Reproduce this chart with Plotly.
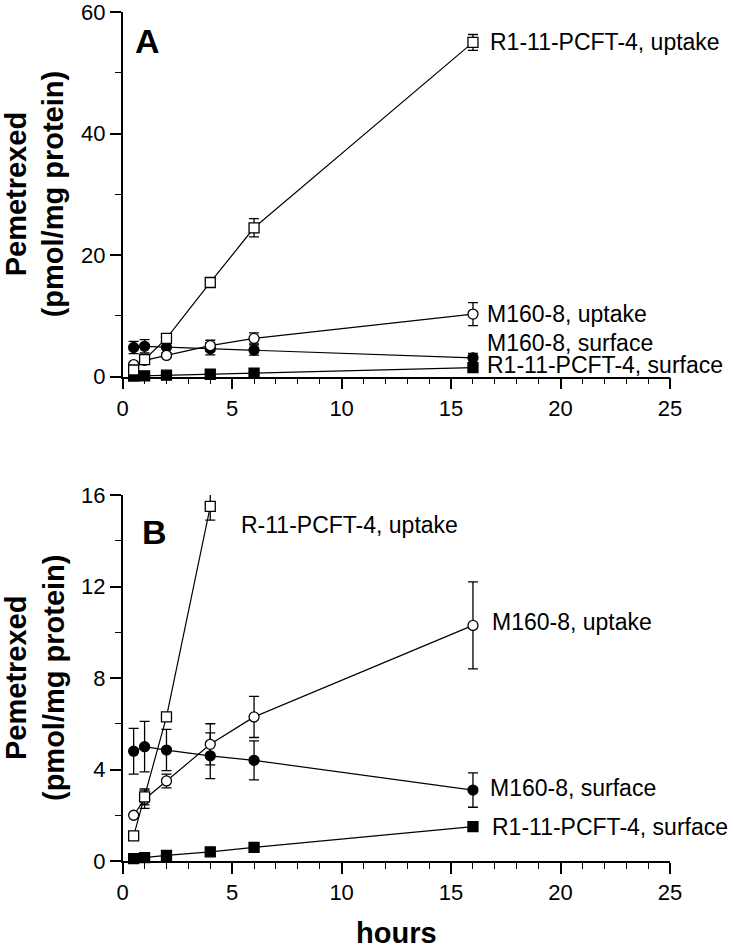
import plotly.graph_objects as go

# ---------------- data ----------------
hours = [0.5, 1, 2, 4, 6, 16]

r1_uptake = [1.1, 2.8, 6.3, 15.5, 24.5, 55.0]
r1_uptake_err = [None, 0.35, None, 0.6, 1.5, 1.3]

m160_uptake = [2.0, 2.7, 3.5, 5.1, 6.3, 10.3]
m160_uptake_err = [None, 0.4, 0.3, 0.9, 0.9, 1.9]

m160_surface = [4.8, 5.0, 4.85, 4.6, 4.4, 3.1]
m160_surface_err = [1.0, 1.1, 0.9, 1.0, 0.85, 0.75]

r1_surface = [0.1, 0.15, 0.25, 0.4, 0.6, 1.5]

# panel B shows R1 uptake only while on scale
n_b_r1 = 4

x_ticks = [0, 5, 10, 15, 20, 25]
yA_ticks = [0, 20, 40, 60]
yB_ticks = [0, 4, 8, 12, 16]

FONT = "Arial, Liberation Sans, sans-serif"
W, H = 734, 947

fig = go.Figure()


def err(arr):
    return dict(type="data", array=arr, visible=True, color="black",
                thickness=1.3, width=5)


def add_series(x, y, e, symbol, fill, xa, ya):
    kw = {}
    if e is not None:
        kw["error_y"] = err(e)
    fig.add_trace(go.Scatter(
        x=x, y=y, mode="lines+markers", xaxis=xa, yaxis=ya,
        line=dict(color="black", width=1.2),
        marker=dict(symbol=symbol, size=10, color=fill,
                    line=dict(color="black", width=1.3)),
        cliponaxis=False, showlegend=False, **kw))


for xa, ya, nr in [("x", "y", len(hours)), ("x2", "y2", n_b_r1)]:
    add_series(hours, r1_surface, None, "square", "black", xa, ya)
    add_series(hours, m160_surface, m160_surface_err, "circle", "black", xa, ya)
    add_series(hours, m160_uptake, m160_uptake_err, "circle", "white", xa, ya)
    add_series(hours[:nr], r1_uptake[:nr], r1_uptake_err[:nr], "square", "white", xa, ya)

# ---------------- axes ----------------
x0, x1 = 122.7 / W, 670 / W
domA = [1 - 376.7 / H, 1 - 12 / H]
domB = [1 - 861 / H, 1 - 495 / H]

common_x = dict(range=[0, 25], tickvals=x_ticks, ticks="outside", ticklen=11,
                tickwidth=1.5, tickcolor="black", showline=True, linecolor="black",
                linewidth=1.5, showgrid=False, zeroline=False, automargin=False,
                ticklabeloverflow="allow",
                tickfont=dict(family=FONT, size=22, color="black"),
                minor=dict(dtick=1, ticks="outside", ticklen=6, tickwidth=1.3,
                           tickcolor="black", showgrid=False),
                domain=[x0, x1])
common_y = dict(ticks="outside", ticklen=11, tickwidth=1.5, tickcolor="black",
                showline=True, linecolor="black", linewidth=1.5, showgrid=False,
                zeroline=False, automargin=False, ticklabeloverflow="allow",
                tickfont=dict(family=FONT, size=22, color="black"))

fig.update_layout(
    width=W, height=H, margin=dict(l=0, r=0, t=0, b=0, autoexpand=False),
    paper_bgcolor="white", plot_bgcolor="white",
    xaxis=dict(**common_x, anchor="y"),
    yaxis=dict(**common_y, range=[0, 60], tickvals=yA_ticks, domain=domA, anchor="x",
               minor=dict(dtick=10, ticks="outside", ticklen=6, tickwidth=1.3,
                          tickcolor="black", showgrid=False)),
    xaxis2=dict(**common_x, anchor="y2"),
    yaxis2=dict(**common_y, range=[0, 16], tickvals=yB_ticks, domain=domB, anchor="x2",
                minor=dict(dtick=2, ticks="outside", ticklen=6, tickwidth=1.3,
                           tickcolor="black", showgrid=False)),
)

lab_font = dict(family=FONT, size=23, color="black")
ann = []


def label(text, x, y, xref, yref, xshift=0, yshift=0, anchor="left"):
    ann.append(dict(text=text, x=x, y=y, xref=xref, yref=yref, xanchor=anchor,
                    yanchor="middle", xshift=xshift, yshift=yshift,
                    showarrow=False, font=lab_font))


# panel A labels
label("R1-11-PCFT-4, uptake", hours[5], r1_uptake[5], "x", "y", 15, 0)
label("M160-8, uptake", hours[5], m160_uptake[5], "x", "y", 12, 0)
label("M160-8, surface", hours[5], m160_surface[5], "x", "y", 12, 15)
label("R1-11-PCFT-4, surface", hours[5], r1_surface[5], "x", "y", 12, 3)
# panel B labels
label("R-11-PCFT-4, uptake", 5.3, 14.7, "x2", "y2")
label("M160-8, uptake", hours[5], m160_uptake[5], "x2", "y2", 17, 3)
label("M160-8, surface", hours[5], m160_surface[5], "x2", "y2", 15, 2)
label("R1-11-PCFT-4, surface", hours[5], r1_surface[5], "x2", "y2", 17, 0)

# panel letters
ann.append(dict(text="<b>A</b>", x=1.11, y=55.2, xref="x", yref="y", showarrow=False,
                xanchor="center", yanchor="middle",
                font=dict(family=FONT, size=34, color="black")))
ann.append(dict(text="<b>B</b>", x=1.43, y=14.37, xref="x2", yref="y2", showarrow=False,
                xanchor="center", yanchor="middle",
                font=dict(family=FONT, size=34, color="black")))

# y titles
for dom in (domA, domB):
    ann.append(dict(text="<b>Pemetrexed<br>(pmol/mg protein)</b>", x=35 / W,
                    y=(dom[0] + dom[1]) / 2, xref="paper", yref="paper",
                    textangle=-90, showarrow=False, xanchor="center", yanchor="middle",
                    font=dict(family=FONT, size=29, color="black")))

# x title
ann.append(dict(text="<b>hours</b>", x=(x0 + x1) / 2, y=1 - 933 / H, xref="paper",
                yref="paper", showarrow=False, xanchor="center", yanchor="middle",
                font=dict(family=FONT, size=29, color="black")))

fig.update_layout(annotations=ann)
fig.write_html("out.html", config={"displayModeBar": False},
               post_script="document.body.style.margin='0px';"
                           "document.body.style.overflow='hidden';")
